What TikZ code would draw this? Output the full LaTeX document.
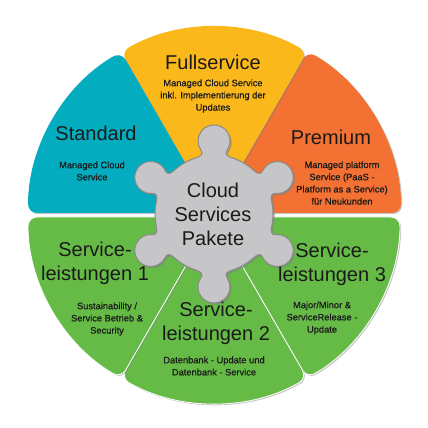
\documentclass[tikz,border=0pt]{standalone}
\usepackage{fontspec}
\setmainfont{Liberation Sans}
\newfontfamily\descfont[FakeBold=0.6]{Liberation Sans}
\usetikzlibrary{shadows}
\definecolor{cteal}{HTML}{03ADBF}
\definecolor{cyellow}{HTML}{FBB81B}
\definecolor{corange}{HTML}{F27133}
\definecolor{cgreen}{HTML}{66BB46}
\definecolor{cgear}{HTML}{C6C6C8}
\definecolor{cgearline}{HTML}{8A8A8C}
\definecolor{ctext}{HTML}{1A1A1A}
\begin{document}
\begin{tikzpicture}[x=1pt,y=1pt,
  seg/.style={drop shadow={shadow xshift=1.2pt,shadow yshift=-1.2pt,opacity=0.45}, rounded corners=9pt},
  lowseg/.style={seg, draw=white, line width=0.8pt},
  head/.style={text=ctext, font=\fontsize{20}{24}\selectfont, align=center, inner sep=0pt},
  desc/.style={text=ctext, font=\descfont\fontsize{9.3}{12.2}\selectfont, align=center, inner sep=0pt}]
\useasboundingbox (0,0) rectangle (428,428);
\coordinate (U) at (214,215);
\coordinate (L) at (214,211);
% upper segments
\fill[seg, corange] (U) -- ++(0:187) arc[start angle=0,end angle=60,radius=187] -- cycle;
\fill[seg, cyellow] (U) -- ++(60:186) arc[start angle=60,end angle=120,radius=186] -- cycle;
\fill[seg, cteal] (U) -- ++(120:186) arc[start angle=120,end angle=180,radius=186] -- cycle;
% lower segments
\filldraw[lowseg, fill=cgreen] (L) -- ++(300:186) arc[start angle=300,end angle=360,radius=186] -- cycle;
\filldraw[lowseg, fill=cgreen] (L) -- ++(240:186) arc[start angle=240,end angle=300,radius=186] -- cycle;
\filldraw[lowseg, fill=cgreen] (L) -- ++(180:186) arc[start angle=180,end angle=240,radius=186] -- cycle;
% gear
\begin{scope}[shift={(214,214)}]
\filldraw[fill=cgear, draw=cgearline, line width=1pt,
  drop shadow={shadow xshift=1.8pt,shadow yshift=-1.8pt,opacity=0.5}]
  (-12:59pt) \foreach \t in {30,90,...,330}{
    arc[start angle=\t-42, end angle=\t-18, radius=59pt]
    .. controls (\t-13.16:59.21pt) and (\t-9.73:60.6pt) .. (\t-11.61:65.15pt)
    arc[start angle=\t-125, end angle=\t+125, radius=16pt]
    .. controls (\t+9.73:60.6pt) and (\t+13.16:59.21pt) .. (\t+18:59pt)} -- cycle;
\end{scope}
% texts
\node[head] (fullh) at (213,366) {Fullservice};
\node[desc] (fulld) at (213,332) {Managed Cloud Service\\inkl. Implementierung der\\Updates};
\node[head] (stdh) at (96,295) {Standard};
\node[desc] (stdd) at (92,257) {Managed Cloud\\Service};
\node[head] (premh) at (331,291) {Premium};
\node[desc] (premd) at (342,245) {Managed platform\\Service (PaaS -\\Platform as a Service)\\für Neukunden};
\node[head] (sl1h) at (95,165) {Service-\\leistungen 1};
\node[desc] (sl1d) at (107,109) {Sustainability /\\Service Betrieb \&\\Security};
\node[head] (sl2h) at (216,105) {Service-\\leistungen 2};
\node[desc] (sl2d) at (214,62) {Datenbank - Update und\\Datenbank - Service};
\node[head] (sl3h) at (332,164) {Service-\\leistungen 3};
\node[desc] (sl3d) at (322,110) {Major/Minor \&\\ServiceRelease -\\Update};
\node[head] (core) at (213,214) {Cloud\\Services\\Pakete};
\end{tikzpicture}
\end{document}
